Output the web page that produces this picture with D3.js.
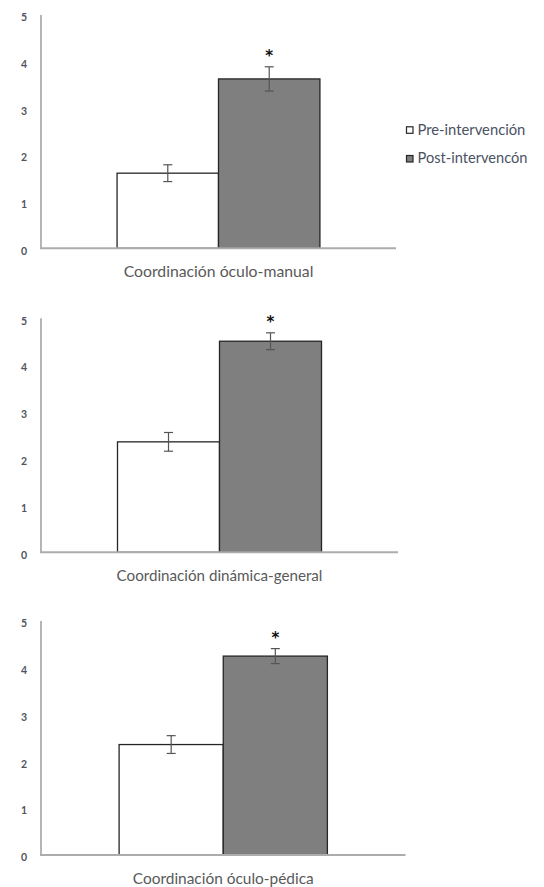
<!DOCTYPE html>
<html>
<head>
<meta charset="utf-8">
<script src="https://cdn.jsdelivr.net/npm/d3@7"></script>
<style>
  html, body { margin: 0; padding: 0; background: #fff; }
  svg { display: block; }
</style>
</head>
<body>
<svg id="chart" width="544" height="887"></svg>
<script>
// ---- Data ----
const categories = ["Coordinación óculo-manual", "Coordinación dinámica-general", "Coordinación óculo-pédica"];
const seriesNames = ["Pre-intervención", "Post-intervencón"];
const preValues = [1.61, 2.36, 2.36];
const postValues = [3.63, 4.51, 4.25];
const preErrors = [0.18, 0.20, 0.19];
const postErrors = [0.26, 0.18, 0.16];
const significant = [true, true, true];
const yTicks = [0, 1, 2, 3, 4, 5];

// ---- Layout ----
const panels = [
  { left: 41, right: 396, top: 15, bottom: 248.3 },
  { left: 41, right: 398, top: 318.3, bottom: 552.3 },
  { left: 41, right: 405.5, top: 621, bottom: 855 }
];
const fillColors = ["#ffffff", "#7f7f7f"];
const font = "Lato, 'Open Sans', sans-serif";

const svg = d3.select("#chart");

function fitFont(sel, targetWidth, base) {
  sel.attr("font-size", base);
  const w = sel.node().getComputedTextLength();
  const fs = base * targetWidth / w;
  sel.attr("font-size", fs);
  return fs;
}

panels.forEach((p, i) => {
  const g = svg.append("g");
  const y = d3.scaleLinear().domain([0, 5]).range([p.bottom, p.top]);
  const x0 = d3.scaleBand().domain([categories[i]]).range([p.left, p.right])
    .paddingOuter(0.75 / 2.0 * 2 / 3.5 * 3.5 / 2).paddingInner(0);
  // group width = 2 bars; outer gap = 0.75 bar on each side
  const total = p.right - p.left;
  const barW = total / 3.5;
  const x0b = d3.scaleBand().domain([categories[i]])
    .range([p.left + 0.75 * barW, p.right - 0.75 * barW]);
  const x1 = d3.scaleBand().domain(seriesNames).range([0, x0b.bandwidth()]).padding(0);

  // y axis (line + labels)
  const yAxis = d3.axisLeft(y).tickValues(yTicks).tickSize(0).tickPadding(14).tickFormat(d3.format("d"));
  const ya = g.append("g").attr("transform", `translate(${p.left},0)`).call(yAxis);
  ya.select(".domain").attr("stroke", "#b5b5b5").attr("stroke-width", 2).attr("d", `M0,${p.top}V${p.bottom}`);
  ya.selectAll("text").attr("font-family", font).attr("font-size", 10.5).attr("font-weight", "bold")
    .attr("fill", "#4f5560").attr("dy", "0.55em");

  const vals = [preValues[i], postValues[i]];
  const errs = [preErrors[i], postErrors[i]];
  const data = seriesNames.map((s, k) => ({ s, v: vals[k], e: errs[k], k }));

  // bars
  g.selectAll("rect.bar").data(data).enter().append("rect")
    .attr("class", "bar")
    .attr("x", d => x0b(categories[i]) + x1(d.s))
    .attr("y", d => y(d.v))
    .attr("width", x1.bandwidth())
    .attr("height", d => y(0) - y(d.v))
    .attr("fill", d => fillColors[d.k])
    .attr("stroke", "#262626")
    .attr("stroke-width", 1.3);

  // baseline (x axis)
  g.append("line").attr("x1", p.left - 1).attr("x2", p.right)
    .attr("y1", p.bottom).attr("y2", p.bottom)
    .attr("stroke", "#acacac").attr("stroke-width", 2);

  // error bars
  const cap = 4.5;
  data.forEach(d => {
    const cx = x0b(categories[i]) + x1(d.s) + x1.bandwidth() / 2;
    const eg = g.append("g").attr("stroke", "#555555").attr("stroke-width", 1.2);
    eg.append("line").attr("x1", cx).attr("x2", cx).attr("y1", y(d.v + d.e)).attr("y2", y(d.v - d.e));
    eg.append("line").attr("x1", cx - cap).attr("x2", cx + cap).attr("y1", y(d.v + d.e)).attr("y2", y(d.v + d.e));
    eg.append("line").attr("x1", cx - cap).attr("x2", cx + cap).attr("y1", y(d.v - d.e)).attr("y2", y(d.v - d.e));
  });

  // significance asterisk
  if (significant[i]) {
    const d = data[1];
    const cx = x0b(categories[i]) + x1(d.s) + x1.bandwidth() / 2;
    g.append("text").attr("x", cx).attr("y", y(d.v + d.e) - 6)
      .attr("text-anchor", "middle").attr("font-family", "'DejaVu Sans', sans-serif")
      .attr("font-weight", "bold").attr("font-size", 15).attr("fill", "#111")
      .text("*");
  }

  // category label
  const lbl = g.append("text")
    .attr("x", x0b(categories[i]) + x0b.bandwidth() / 2)
    .attr("y", p.bottom + 29)
    .attr("text-anchor", "middle").attr("font-family", font).attr("fill", "#595959")
    .text(categories[i]);
  fitFont(lbl, [190, 206, 181][i], 13);
});

// legend
const legend = svg.append("g");
seriesNames.forEach((s, k) => {
  const cy = [130.3, 159][k];
  legend.append("rect").attr("x", 406.5).attr("y", cy - 3.5).attr("width", 6.5).attr("height", 6.5)
    .attr("fill", fillColors[k]).attr("stroke", "#262626").attr("stroke-width", 1.2);
  const t = legend.append("text").attr("x", 417.5).attr("y", cy + 4.3)
    .attr("font-family", font).attr("fill", "#4a5263").text(s);
  fitFont(t, k === 0 ? 108 : 110, 12);
});
</script>
</body>
</html>
